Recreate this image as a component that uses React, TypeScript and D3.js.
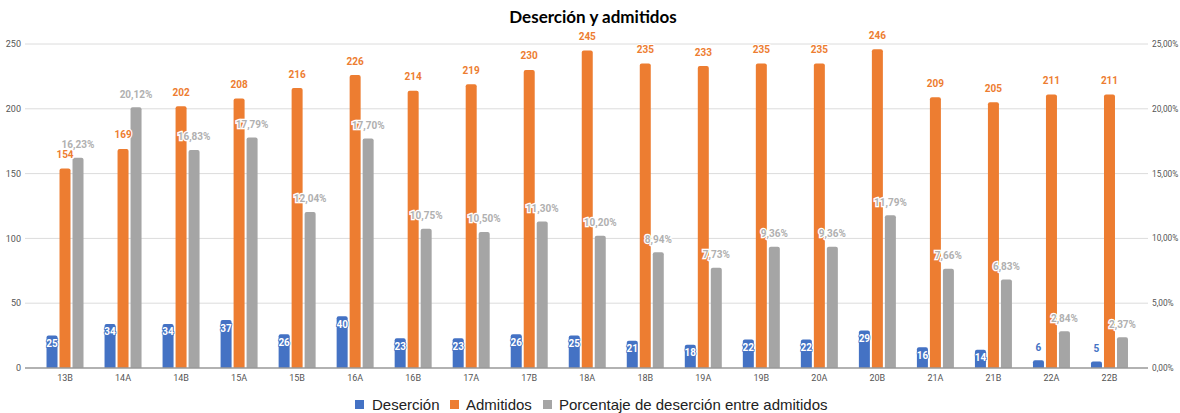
import React from "react";
import * as d3 from "d3";

const categories = ["13B","14A","14B","15A","15B","16A","16B","17A","17B","18A","18B","19A","19B","20A","20B","21A","21B","22A","22B"];
const desercion = [25,34,34,37,26,40,23,23,26,25,21,18,22,22,29,16,14,6,5];
const admitidos = [154,169,202,208,216,226,214,219,230,245,235,233,235,235,246,209,205,211,211];
const porcentaje = [16.23,20.12,16.83,17.79,12.04,17.70,10.75,10.50,11.30,10.20,8.94,7.73,9.36,9.36,11.79,7.66,6.83,2.84,2.37];
const leftTicks = [0,50,100,150,200,250];
const rightTicks = [0,5,10,15,20,25];
const seriesNames = ["Deserción","Admitidos","Porcentaje de deserción entre admitidos"];
const colors = ["#4472C4","#ED7D31","#A5A5A5"];

const W = 1180, H = 413;
const top = 44, bottom = 368, gridL = 25, gridR = 1148;
const FONT = "Roboto, 'Noto Sans', sans-serif";

const fmtPct = (v: number) => v.toFixed(2).replace(".", ",") + "%";

function barPath(x: number, y0: number, w: number, h: number, r: number) {
  if (h <= 0) return "";
  const rr = Math.min(r, h, w / 2);
  const y = y0;
  return `M${x},${y + h}V${y + rr}Q${x},${y} ${x + rr},${y}H${x + w - rr}Q${x + w},${y} ${x + w},${y + rr}V${y + h}Z`;
}

export default function App() {
  const x = d3.scaleBand().domain(categories).range([36, 1138.5]);
  const sub = d3.scaleBand().domain(["0","1","2"]).range([-18.5, 18.5]).paddingInner(2 / 13);
  const yL = d3.scaleLinear().domain([0, 250]).range([bottom, top]);
  const yR = d3.scaleLinear().domain([0, 25]).range([bottom, top]);
  const bw = sub.bandwidth();

  const legendItems = [
    { x: 355, tx: 372 },
    { x: 450, tx: 466 },
    { x: 543, tx: 559 },
  ];

  return (
    <svg width={W} height={H} style={{ position: "absolute", left: 0, top: 0, background: "#fff" }} fontFamily={FONT}>
      <rect width={W} height={H} fill="#fff" />
      <text x={593} y={22.5} textAnchor="middle" fontSize={17} fontWeight="bold" fill="#000" fontFamily="Lato, sans-serif">Deserción y admitidos</text>
      {leftTicks.map((t) => (
        <g key={"g" + t}>
          {t !== 0 && <line x1={gridL} x2={gridR} y1={yL(t)} y2={yL(t)} stroke="#dcdcdc" strokeWidth={1} />}
          <text x={21} y={yL(t)} dy="0.35em" textAnchor="end" fontSize={9} fill="#555">{t}</text>
        </g>
      ))}
      {rightTicks.map((t) => (
        <text key={"r" + t} x={1152} y={yR(t)} dy="0.35em" textAnchor="start" fontSize={8.3} fill="#555">{t.toFixed(2).replace(".", ",") + "%"}</text>
      ))}
      {categories.map((c, i) => {
        const cx = (x(c) as number) + x.bandwidth() / 2;
        const bx = cx + (sub("0") as number);
        const ox = cx + (sub("1") as number);
        const gx = cx + (sub("2") as number);
        const by = yL(desercion[i]);
        const oy = yL(admitidos[i]);
        const gy = yR(porcentaje[i]);
        return (
          <g key={c}>
            <path d={barPath(bx, by, bw, bottom - by, 2)} fill={colors[0]} />
            <path d={barPath(ox, oy, bw, bottom - oy, 2)} fill={colors[1]} />
            <path d={barPath(gx, gy, bw, bottom - gy, 2)} fill={colors[2]} />
            <text x={cx} y={381} textAnchor="middle" fontSize={9} fill="#555">{c}</text>
          </g>
        );
      })}
      <line x1={gridL} x2={gridR} y1={bottom} y2={bottom} stroke="#999" strokeWidth={1.3} />
      {categories.map((c, i) => {
        const cx = (x(c) as number) + x.bandwidth() / 2;
        const bx = cx + (sub("0") as number) + bw / 2;
        const ox = cx + (sub("1") as number) + bw / 2;
        const gx = cx + (sub("2") as number) + bw / 2;
        const by = yL(desercion[i]);
        const oy = yL(admitidos[i]);
        const gy = yR(porcentaje[i]);
        const inside = bottom - by > 14;
        return (
          <g key={"l" + c} fontWeight="bold" fontSize={10}>
            <text x={ox} y={oy - 14} dy="0.35em" textAnchor="middle" fill={colors[1]} stroke="#fff" strokeWidth={2} paintOrder="stroke">{admitidos[i]}</text>
            <text x={gx} y={gy - 13} dy="0.35em" textAnchor="middle" fill="#B0B0B0" stroke="#fff" strokeWidth={2.5} paintOrder="stroke">{fmtPct(porcentaje[i])}</text>
            {inside ? (
              <text x={bx} y={by + 8} dy="0.35em" textAnchor="middle" fill="#fff" stroke={colors[0]} strokeWidth={1.5} paintOrder="stroke">{desercion[i]}</text>
            ) : (
              <text x={bx} y={by - 13} dy="0.35em" textAnchor="middle" fill={colors[0]}>{desercion[i]}</text>
            )}
          </g>
        );
      })}
      {seriesNames.map((s, i) => (
        <g key={s}>
          <rect x={legendItems[i].x} y={400} width={9} height={9} fill={colors[i]} />
          <text x={legendItems[i].tx} y={404.5} dy="0.35em" fontSize={15} fill="#222" fontFamily="'Liberation Sans', Arial, sans-serif">{s}</text>
        </g>
      ))}
    </svg>
  );
}
